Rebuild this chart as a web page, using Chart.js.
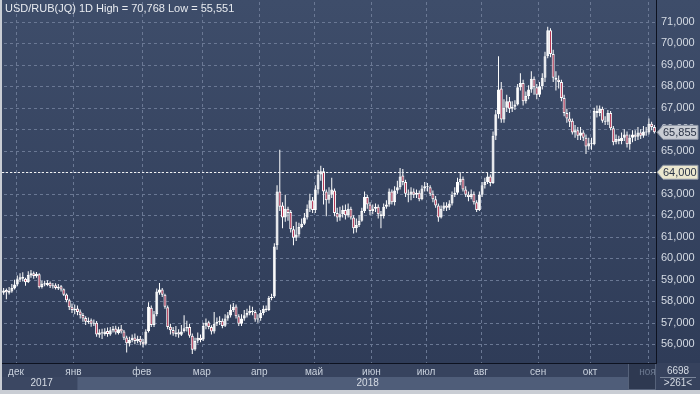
<!DOCTYPE html>
<html>
<head>
<meta charset="utf-8">
<script src="https://cdn.jsdelivr.net/npm/chart.js@4/dist/chart.umd.min.js"></script>
<style>
  html, body { margin: 0; padding: 0; background: #c9cdd4; }
  #wrap { width: 700px; height: 394px; position: relative; }
</style>
</head>
<body>
<div id="wrap"><canvas id="rubChart"></canvas></div>
<script>
// USD/RUB daily candles, late Nov 2017 .. early Nov 2018 (one line per month)
const monthNames = ['ноя', 'дек', 'янв', 'фев', 'мар', 'апр', 'май', 'июн', 'июл', 'авг', 'сен', 'окт', 'ноя'];
const monthCounts = [5, 21, 25, 22, 21, 20, 21, 20, 20, 21, 19, 21, 3];
const yearNames = ['2017', '2018'];
const yearFirstMonth = [1, 2]; // index into monthNames where each year band starts
const priceTicks = [56, 57, 58, 59, 60, 61, 62, 63, 64, 65, 66, 67, 68, 69, 70, 71];
const lastPrice = 65.855;
const markPrice = 64;

const opens = [
  58.40, 58.52, 58.40, 58.46, 58.60,
  58.78, 59.00, 59.14, 59.05, 58.90, 59.20, 59.30, 59.16, 59.26, 58.66, 58.84, 58.76, 58.86, 58.70, 58.75, 58.60, 58.70, 58.56, 58.32, 58.05, 57.74,
  57.60, 57.66, 57.52, 57.36, 57.22, 57.04, 57.12, 56.96, 57.00, 56.44, 56.56, 56.48, 56.62, 56.46, 56.64, 56.74, 56.52, 56.72, 56.60, 56.32, 56.04, 56.20, 56.32, 56.14, 56.26,
  56.12, 56.02, 56.62, 57.70, 56.90, 57.40, 58.40, 58.55, 58.30, 57.72, 56.82, 56.66, 56.48, 56.56, 56.44, 56.62, 56.74, 56.80, 56.40, 55.76, 56.16, 56.30,
  56.22, 56.86, 57.02, 56.80, 56.60, 56.96, 57.04, 57.10, 56.86, 57.20, 57.34, 57.60, 57.76, 57.30, 56.96, 57.20, 57.34, 57.44, 57.56, 57.50, 57.15,
  57.22, 57.45, 57.66, 57.60, 58.15, 58.22, 60.60, 63.10, 62.45, 61.90, 62.30, 62.15, 61.35, 60.95, 61.10, 61.45, 61.60, 61.90, 62.30, 62.70,
  62.25, 63.20, 63.90, 64.05, 63.10, 62.72, 62.95, 63.15, 62.10, 61.90, 62.05, 62.25, 62.00, 62.30, 61.90, 61.40, 61.55, 61.75, 62.20, 62.85, 62.50,
  62.20, 62.30, 62.40, 62.05, 61.95, 62.40, 62.50, 63.10, 62.60, 63.15, 63.30, 63.85, 63.55, 63.00, 62.95, 63.10, 62.95, 63.05, 62.75, 63.25,
  63.35, 63.30, 63.00, 62.75, 62.45, 61.90, 62.30, 62.45, 62.35, 62.55, 62.95, 63.05, 63.55, 63.70, 63.20, 62.95, 62.85, 63.00, 62.60, 62.25,
  62.95, 63.40, 63.55, 63.80, 63.50, 65.70, 66.70, 67.90, 66.45, 67.00, 67.30, 66.95, 67.05, 67.15, 67.95, 68.15, 67.30, 67.55, 67.85, 68.35, 67.95,
  67.60, 68.00, 68.40, 69.40, 70.60, 69.50, 68.40, 68.30, 68.20, 67.45, 66.75, 66.50, 66.40, 65.85, 65.95, 65.70, 65.85, 65.60, 65.20,
  65.35, 65.30, 66.85, 66.75, 66.95, 66.40, 66.35, 66.75, 66.05, 65.40, 65.55, 65.45, 65.60, 65.75, 65.30, 65.60, 65.75, 65.65, 65.85, 65.70, 65.90,
  65.85, 66.25, 66.10
];
const highs = [
  58.62, 58.60, 58.66, 58.80, 59.00,
  59.20, 59.30, 59.35, 59.10, 59.40, 59.45, 59.38, 59.36, 59.30, 58.95, 58.95, 58.98, 58.92, 58.85, 58.84, 58.80, 58.76, 58.60, 58.36, 58.12, 57.90,
  57.85, 57.80, 57.62, 57.45, 57.30, 57.25, 57.20, 57.15, 57.08, 56.70, 56.72, 56.75, 56.78, 56.80, 56.85, 56.86, 56.82, 56.90, 56.66, 56.40, 56.35, 56.45, 56.50, 56.40, 56.38,
  56.25, 56.70, 57.95, 57.80, 57.55, 58.60, 58.85, 58.62, 58.35, 57.80, 56.95, 56.80, 56.85, 56.70, 56.90, 57.35, 57.10, 56.95, 56.50, 56.30, 56.55, 56.45,
  57.00, 57.20, 57.10, 56.88, 57.50, 57.25, 57.30, 57.20, 57.40, 57.50, 57.85, 57.92, 57.85, 57.40, 57.40, 57.60, 57.65, 57.80, 57.75, 57.60, 57.40,
  57.60, 57.80, 57.80, 58.25, 58.35, 60.70, 63.40, 65.05, 62.60, 62.95, 62.40, 62.25, 61.50, 61.70, 61.65, 61.85, 62.10, 62.50, 63.00, 62.85,
  63.40, 64.10, 64.30, 64.20, 63.20, 63.30, 63.75, 63.25, 62.35, 62.40, 62.45, 62.50, 62.55, 62.40, 62.00, 61.85, 62.00, 62.35, 63.10, 62.95, 62.60,
  62.50, 62.55, 62.50, 62.20, 62.55, 62.70, 63.25, 63.20, 63.35, 63.60, 64.20, 64.15, 63.65, 63.20, 63.30, 63.25, 63.20, 63.15, 63.40, 63.55,
  63.50, 63.40, 63.15, 62.90, 62.55, 62.45, 62.60, 62.60, 62.70, 63.10, 63.30, 63.75, 64.00, 63.80, 63.35, 63.10, 63.20, 63.10, 62.70, 63.10,
  63.55, 63.75, 64.00, 63.90, 65.90, 66.90, 69.40, 68.20, 67.40, 67.60, 67.50, 67.30, 67.35, 68.10, 68.60, 68.30, 67.75, 68.05, 68.70, 68.45, 68.10,
  68.20, 68.60, 69.60, 70.768, 70.70, 69.70, 68.70, 68.50, 68.30, 67.60, 66.95, 66.80, 66.50, 66.20, 66.10, 66.10, 65.95, 65.75, 65.60,
  65.60, 67.00, 67.10, 67.10, 67.05, 66.60, 66.90, 66.85, 66.15, 65.75, 65.70, 65.85, 66.00, 65.90, 65.75, 65.95, 65.95, 66.10, 66.00, 66.15, 66.10,
  66.50, 66.35, 66.20
];
const lows = [
  58.30, 58.10, 58.32, 58.40, 58.55,
  58.70, 58.90, 58.92, 58.72, 58.85, 59.10, 59.05, 59.10, 58.60, 58.60, 58.70, 58.70, 58.62, 58.60, 58.55, 58.52, 58.45, 58.25, 57.95, 57.60, 57.45,
  57.40, 57.35, 57.20, 57.05, 56.90, 56.95, 56.82, 56.85, 56.35, 56.30, 56.25, 56.40, 56.35, 56.40, 56.55, 56.45, 56.45, 56.50, 56.20, 55.62, 55.90, 56.10, 56.00, 56.05, 55.95,
  55.85, 55.95, 56.55, 56.80, 56.80, 57.30, 58.30, 58.20, 57.65, 56.70, 56.45, 56.40, 56.35, 56.30, 56.38, 56.55, 56.60, 56.30, 55.551, 55.70, 56.05, 56.10,
  56.15, 56.70, 56.70, 56.45, 56.50, 56.85, 56.90, 56.75, 56.80, 57.10, 57.25, 57.50, 57.20, 56.85, 56.85, 57.10, 57.25, 57.35, 57.35, 57.05, 57.00,
  57.10, 57.35, 57.50, 57.55, 58.05, 58.15, 60.40, 62.20, 61.40, 61.70, 61.75, 61.20, 60.60, 60.80, 61.00, 61.40, 61.55, 61.80, 62.15, 62.10,
  62.10, 63.00, 63.60, 62.50, 61.95, 62.55, 62.80, 61.95, 61.70, 61.75, 61.90, 61.80, 61.90, 61.80, 61.15, 61.20, 61.45, 61.70, 62.10, 62.30, 62.00,
  62.05, 62.15, 61.85, 61.40, 61.85, 62.30, 62.40, 62.50, 62.45, 63.00, 63.20, 63.40, 62.85, 62.60, 62.70, 62.80, 62.80, 62.65, 62.70, 63.10,
  63.10, 62.90, 62.60, 62.35, 61.70, 61.85, 62.20, 62.20, 62.25, 62.45, 62.85, 62.95, 63.40, 63.10, 62.85, 62.65, 62.75, 62.50, 62.15, 62.20,
  62.85, 63.25, 63.45, 63.35, 63.45, 65.50, 66.50, 66.30, 66.30, 66.80, 66.75, 66.80, 66.90, 67.10, 67.80, 67.10, 67.20, 67.40, 67.70, 67.60, 67.40,
  67.50, 67.85, 68.20, 69.30, 69.35, 68.20, 67.80, 67.90, 67.30, 66.60, 66.30, 66.10, 65.75, 65.60, 65.50, 65.50, 65.45, 64.85, 65.05,
  65.05, 65.25, 66.55, 66.60, 66.30, 66.20, 66.20, 65.95, 65.25, 65.30, 65.30, 65.30, 65.45, 65.15, 65.05, 65.40, 65.45, 65.50, 65.55, 65.60, 65.70,
  65.75, 65.95, 65.80
];
const closes = [
  58.50, 58.42, 58.48, 58.62, 58.78,
  59.02, 59.12, 59.05, 58.88, 59.22, 59.30, 59.18, 59.28, 58.65, 58.82, 58.78, 58.85, 58.70, 58.74, 58.62, 58.68, 58.55, 58.30, 58.05, 57.72, 57.60,
  57.65, 57.50, 57.35, 57.20, 57.05, 57.10, 56.95, 57.00, 56.45, 56.55, 56.50, 56.60, 56.48, 56.65, 56.72, 56.55, 56.70, 56.60, 56.30, 56.05, 56.20, 56.30, 56.15, 56.25, 56.10,
  56.00, 56.60, 57.75, 56.90, 57.40, 58.45, 58.55, 58.30, 57.75, 56.80, 56.65, 56.50, 56.55, 56.45, 56.60, 56.75, 56.80, 56.40, 55.75, 56.15, 56.30, 56.20,
  56.85, 57.00, 56.80, 56.60, 56.95, 57.05, 57.10, 56.85, 57.20, 57.35, 57.60, 57.75, 57.30, 56.95, 57.20, 57.35, 57.45, 57.55, 57.50, 57.15, 57.20,
  57.45, 57.65, 57.60, 58.15, 58.20, 60.55, 63.10, 62.40, 61.90, 62.30, 62.10, 61.35, 60.95, 61.10, 61.45, 61.60, 61.90, 62.30, 62.70, 62.25,
  63.20, 63.90, 64.05, 63.10, 62.70, 62.95, 63.20, 62.10, 61.90, 62.05, 62.25, 62.00, 62.30, 61.90, 61.40, 61.55, 61.75, 62.20, 62.85, 62.50, 62.20,
  62.30, 62.40, 62.05, 61.95, 62.40, 62.50, 63.10, 62.60, 63.15, 63.30, 63.80, 63.55, 63.00, 62.95, 63.10, 62.95, 63.05, 62.75, 63.25, 63.35,
  63.30, 63.00, 62.75, 62.45, 61.90, 62.30, 62.45, 62.35, 62.55, 62.95, 63.05, 63.55, 63.70, 63.20, 62.95, 62.85, 63.00, 62.60, 62.25, 62.95,
  63.40, 63.55, 63.80, 63.50, 65.70, 66.70, 67.85, 66.45, 67.00, 67.30, 66.95, 67.05, 67.15, 67.95, 68.15, 67.30, 67.55, 67.85, 68.35, 67.95, 67.60,
  68.00, 68.40, 69.40, 70.60, 69.50, 68.40, 68.30, 68.20, 67.45, 66.75, 66.50, 66.35, 65.85, 65.95, 65.70, 65.85, 65.60, 65.20, 65.35,
  65.30, 66.85, 66.75, 66.95, 66.40, 66.35, 66.75, 66.05, 65.40, 65.55, 65.45, 65.60, 65.75, 65.30, 65.60, 65.75, 65.65, 65.85, 65.70, 65.90, 65.85,
  66.25, 66.10, 65.855
];

// first candle index of every month segment
const monthStarts = [];
let acc = 0;
monthCounts.forEach(n => { monthStarts.push(acc); acc += n; });
const candleCount = acc;

const FONT = '"Liberation Sans", Arial, sans-serif';
const RED = '#b3304f';
const GRID = '#6a7894';

const wickData = closes.map((c, i) => ({ x: i, y: [lows[i], highs[i]] }));
const bodyData = closes.map((c, i) => ({ x: i, y: [Math.min(opens[i], c), Math.max(opens[i], c)] }));
const bodyFill = closes.map((c, i) => (c < opens[i] ? RED : '#ffffff'));

function fmt(v) {
  return v.toFixed(3).replace('.', ',');
}

function priceTag(ctx, x, y, text, fill) {
  ctx.save();
  ctx.fillStyle = fill;
  ctx.strokeStyle = '#8a93a3';
  ctx.lineWidth = 1;
  ctx.beginPath();
  ctx.moveTo(x, y);
  ctx.lineTo(x + 6, y - 7);
  ctx.lineTo(x + 41, y - 7);
  ctx.lineTo(x + 41, y + 7);
  ctx.lineTo(x + 6, y + 7);
  ctx.closePath();
  ctx.fill();
  ctx.stroke();
  ctx.fillStyle = '#2b3447';
  ctx.font = '11px ' + FONT;
  ctx.textBaseline = 'middle';
  ctx.fillText(text, x + 6, y + 0.5);
  ctx.restore();
}

function dashedLine(ctx, x1, y1, x2, y2) {
  // dashes drawn as tiny filled rects so they stay crisp
  const horiz = y1 === y2;
  const len = horiz ? x2 - x1 : y2 - y1;
  for (let d = 0; d < len; d += 6) {
    if (horiz) ctx.fillRect(x1 + d, y1, Math.min(3, len - d), 1);
    else ctx.fillRect(x1, y1 + d, 1, Math.min(3, len - d));
  }
}

const backdrop = {
  id: 'backdrop',
  beforeDraw(chart) {
    const { ctx, chartArea: a, scales } = chart;
    const W = chart.width;
    ctx.save();
    // frame
    ctx.fillStyle = '#c9cdd4';
    ctx.fillRect(0, 0, W, chart.height);
    // plot + price panel
    const g = ctx.createLinearGradient(0, 0, 0, a.bottom);
    g.addColorStop(0, '#3e4d6a');
    g.addColorStop(1, '#2f3c58');
    ctx.fillStyle = g;
    ctx.fillRect(a.left, 0, W - a.left, a.bottom);
    // dashed month / price grid from the library's scales
    ctx.fillStyle = GRID;
    scales.y.ticks.forEach(t => {
      const y = Math.round(scales.y.getPixelForValue(t.value));
      dashedLine(ctx, a.left + 2, y, a.right, y);
    });
    scales.x.ticks.forEach(t => {
      const x = Math.round(scales.x.getPixelForValue(t.value));
      dashedLine(ctx, x, a.top + 2, x, a.bottom);
    });
    // date band
    const bandBottom = scales.x.bottom;
    ctx.fillStyle = '#37435e';
    ctx.fillRect(a.left, a.bottom, W - a.left, bandBottom - a.bottom);
    // year row
    const rowTop = a.bottom + 14;
    const y18 = scales.x.getPixelForValue(monthStarts[yearFirstMonth[1]] - 0.5) + 4;
    ctx.fillStyle = '#3b4762';
    ctx.fillRect(a.left, rowTop, y18 - a.left, bandBottom - rowTop);
    ctx.fillStyle = '#4f5d79';
    ctx.fillRect(y18, rowTop, a.right - y18, bandBottom - rowTop);
    // dim box at the right end of the date band
    ctx.fillStyle = '#2e3951';
    ctx.fillRect(a.right - 28, a.bottom, 28, bandBottom - a.bottom);
    ctx.strokeStyle = '#56627a';
    ctx.strokeRect(a.right - 27.5, a.bottom + 0.5, 27, bandBottom - a.bottom - 1);
    // counter box under the price axis
    ctx.fillStyle = '#36425d';
    ctx.fillRect(a.right, a.bottom, W - a.right, bandBottom - a.bottom);
    ctx.restore();
  },
  afterDatasetsDraw(chart) {
    const { ctx, chartArea: a, scales } = chart;
    const y = Math.round(scales.y.getPixelForValue(markPrice)) + 0.5;
    ctx.save();
    ctx.strokeStyle = '#f2f2f2';
    ctx.lineWidth = 1;
    ctx.setLineDash([2, 2]);
    ctx.beginPath();
    ctx.moveTo(a.left, y);
    ctx.lineTo(a.right, y);
    ctx.stroke();
    ctx.restore();
  },
  afterDraw(chart) {
    const { ctx, chartArea: a, scales } = chart;
    ctx.save();
    ctx.fillStyle = '#e8ebf0';
    ctx.font = '11px ' + FONT;
    ctx.textBaseline = 'top';
    ctx.fillText('USD/RUB(JQ) 1D High = ' + fmt(Math.max(...highs)) + ' Low = ' + fmt(Math.min(...lows)), a.left + 3, 3);

    // year labels
    const rowMid = a.bottom + 20.5;
    ctx.font = '10px ' + FONT;
    ctx.textAlign = 'center';
    ctx.textBaseline = 'middle';
    ctx.fillStyle = '#d5dbe4';
    const y18 = scales.x.getPixelForValue(monthStarts[yearFirstMonth[1]] - 0.5);
    ctx.fillText(yearNames[0], (a.left + y18) / 2 + 4, rowMid);
    ctx.fillText(yearNames[1], (y18 + a.right) / 2 + 3, rowMid);

    // counter box text
    const cx = (a.right + chart.width) / 2;
    ctx.fillText('6698', cx, a.bottom + 8);
    ctx.strokeStyle = '#7b869a';
    ctx.beginPath();
    ctx.moveTo(a.right + 4, a.bottom + 14.5);
    ctx.lineTo(chart.width - 4, a.bottom + 14.5);
    ctx.stroke();
    ctx.fillText('>261<', cx, rowMid);
    ctx.restore();

    priceTag(ctx, a.right + 1, scales.y.getPixelForValue(lastPrice), fmt(lastPrice), '#c9cdd4');
    priceTag(ctx, a.right + 1, scales.y.getPixelForValue(markPrice), fmt(markPrice), '#ebe7cf');
  }
};

function noPadding(axis) {
  axis.paddingTop = 0;
  axis.paddingBottom = 0;
  axis.paddingLeft = 0;
  axis.paddingRight = 0;
}

function initializeChart() {
  const ctx = document.getElementById('rubChart').getContext('2d');
  new Chart(ctx, {
    type: 'bar',
    data: {
      datasets: [
        {
          label: 'wick',
          data: wickData,
          backgroundColor: '#ffffff',
          borderWidth: 0,
          barThickness: 1,
          grouped: false,
          order: 2,
          inflateAmount: 0,
        },
        {
          label: 'body',
          data: bodyData,
          backgroundColor: bodyFill,
          borderColor: '#ffffff',
          borderWidth: 1,
          borderSkipped: false,
          barThickness: 3,
          minBarLength: 1,
          grouped: false,
          order: 1,
          inflateAmount: 0,
        },
      ],
    },
    options: {
      responsive: true,
      maintainAspectRatio: false,
      animation: false,
      events: [],
      layout: { padding: { left: 2, right: 0, top: 0, bottom: 4 } },
      plugins: { legend: { display: false }, tooltip: { enabled: false } },
      scales: {
        x: {
          type: 'linear',
          offset: false,
          min: -0.6,
          max: candleCount - 0.4,
          afterBuildTicks: (axis) => {
            axis.ticks = monthStarts.slice(1).map(i => ({ value: i - 0.5 }));
          },
          afterFit: (axis) => { axis.height = 27; noPadding(axis); },
          ticks: {
            autoSkip: false,
            maxRotation: 0,
            padding: 3,
            font: { family: FONT, size: 10 },
            color: (c) => (c.index === monthStarts.length - 2 ? '#6e7b92' : '#c9d1dd'),
            callback: (v, i) => monthNames[i + 1],
          },
          grid: { display: false, drawTicks: false },
          border: { display: true, color: '#0d1220', width: 1 },
        },
        y: {
          position: 'right',
          min: 55.13,
          max: 72.01,
          afterBuildTicks: (axis) => {
            axis.ticks = priceTicks.map(v => ({ value: v }));
          },
          afterFit: (axis) => { axis.width = 44; noPadding(axis); },
          ticks: {
            padding: 5,
            font: { family: FONT, size: 11 },
            color: '#d5dbe4',
            callback: (v) => fmt(v),
          },
          grid: { display: false, drawTicks: false },
          border: { display: true, color: '#0d1220', width: 1 },
        },
      },
    },
    plugins: [backdrop],
  });
}

document.addEventListener('DOMContentLoaded', initializeChart);
</script>
</body>
</html>
